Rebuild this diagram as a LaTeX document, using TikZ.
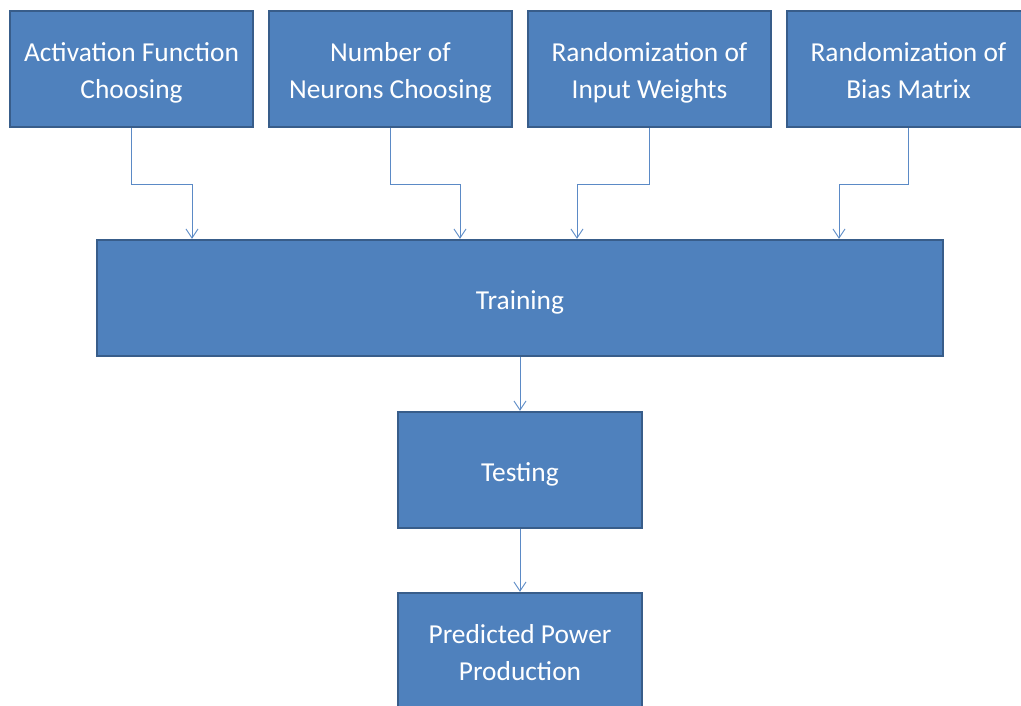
\documentclass[tikz,border=0pt]{standalone}
\usepackage{fontspec}
\setmainfont{Carlito}
\usetikzlibrary{arrows.meta}
\definecolor{boxfill}{HTML}{4F81BD}
\definecolor{boxdraw}{HTML}{385D8A}
\definecolor{conncol}{HTML}{5B8AC6}
\newcommand{\ls}{\rule[-7.1pt]{0pt}{37pt}}
\begin{document}
\begin{tikzpicture}[x=1pt,y=-1pt,
  box/.style={draw=boxdraw, line width=2.4pt, fill=boxfill, text=white,
    minimum width=243pt, minimum height=116pt, inner sep=0pt, align=center,
    font=\fontsize{27.4}{37}\selectfont},
  conn/.style={draw=conncol, line width=0.9pt, -{Straight Barb[length=9pt,width=12pt]}}]
\useasboundingbox (0,0) rectangle (1021,706);
\begin{scope}
\clip (0,0) rectangle (1021,706);
\node[box] (b1) at (131.5,69) {\ls Activation Function\\\ls Choosing};
\node[box] (b2) at (390.5,69) {\ls Number of\\\ls Neurons Choosing};
\node[box] (b3) at (649.5,69) {\ls Randomization of\\\ls Input Weights};
\node[box] (b4) at (908.5,69) {\ls Randomization of\\\ls Bias Matrix};
\node[box, minimum width=846pt] (train) at (520,298) {\ls Training};
\node[box, minimum width=244pt] (test) at (520,470) {\ls Testing};
\node[box, minimum width=244pt] (pred) at (520,651) {\ls Predicted Power\\\ls Production};
\end{scope}
\draw[conn] (b1.south) -- ++(0,56) -| ([xshift=-328pt]train.north);
\draw[conn] (b2.south) -- ++(0,56) -| ([xshift=-60pt]train.north);
\draw[conn] (b3.south) -- ++(0,56) -| ([xshift=57pt]train.north);
\draw[conn] (b4.south) -- ++(0,56) -| ([xshift=319pt]train.north);
\draw[conn] (train.south) -- (test.north);
\draw[conn] (test.south) -- (pred.north);
\end{tikzpicture}
\end{document}
